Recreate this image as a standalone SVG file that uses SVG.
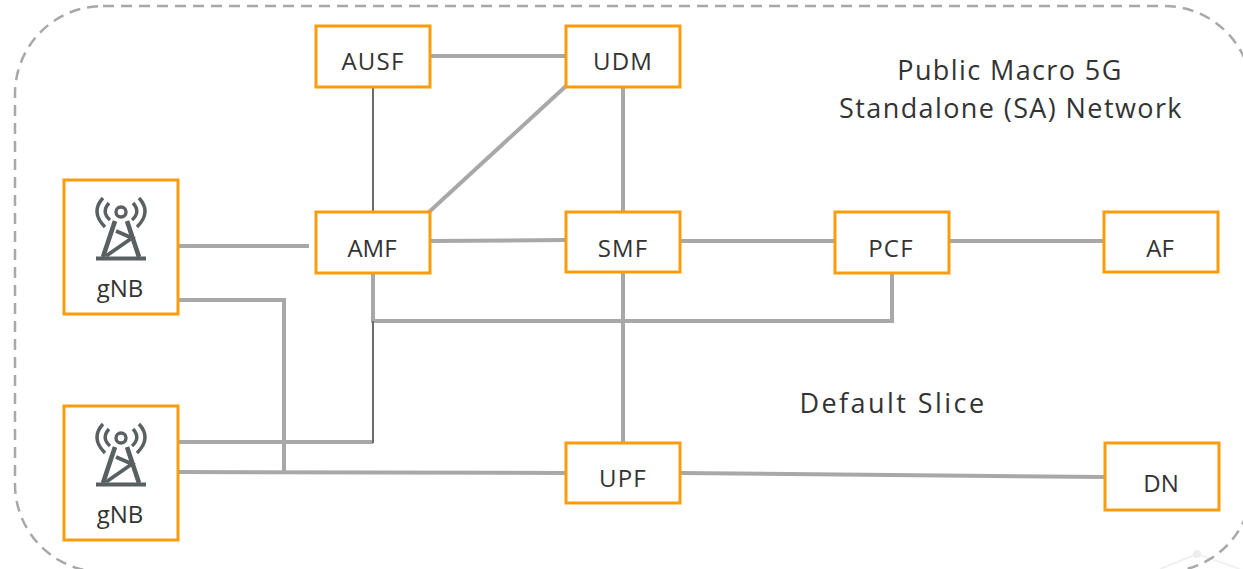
<svg xmlns="http://www.w3.org/2000/svg" width="1243" height="569" viewBox="0 0 1243 569">
<defs>
<g id="tower" fill="none" stroke="#586060">
<circle cx="0" cy="0" r="5" stroke-width="3.400"/>
<path d="M-6 9 L-18 45 M6 9 L18 45" stroke-width="4.600"/>
<path d="M-5 19 L11 26 L-15 44" stroke-width="3.800"/>
<path d="M-25 46.500 H25" stroke-width="4.200"/>
<path d="M-12 -9 Q-20 0 -11 8 M12 -9 Q20 0 11 8" stroke-width="3.400"/>
<path d="M-18 -14 Q-31 0 -16 15 M18 -14 Q31 0 16 15" stroke-width="3.400"/>
</g>
</defs>
<style>
.box{fill:#fff;stroke:#fb9c0c;stroke-width:3}
.t{font-family:"Open Sans","Noto Sans",sans-serif;fill:#333;text-anchor:middle}
.n{font-size:24px}
.s{letter-spacing:1.200px}
.a{font-size:27px;letter-spacing:1.400px}
.w{fill:none;stroke:#a8a8a8;stroke-width:4}
.d{fill:none;stroke:#6b6b6b;stroke-width:2}
.f{fill:none;stroke:#f1f1f1;stroke-width:2}
</style>
<rect width="1243" height="569" fill="#fff"/>
<g id="watermark"><path class="f" d="M1160 569L1197 554L1240 569"/><circle cx="1197" cy="554" r="4" fill="#eee"/></g>
<g id="slice-boundary"><rect x="15" y="6" width="1237" height="566" rx="88" ry="88" fill="none" stroke="#a8a8a8" stroke-width="2.500" stroke-dasharray="11 7"/></g>
<g id="connectors">
<path class="w" d="M430 56H566"/>
<path class="w" d="M429 212L566 86"/>
<path class="w" d="M623 87V212"/>
<path class="w" d="M178 246H309"/>
<path class="w" d="M430 241L566 240"/>
<path class="w" d="M680 241H835"/>
<path class="w" d="M949 241H1104"/>
<path class="w" d="M373 273V321H892V273"/>
<path class="w" d="M623 272V443"/>
<path class="w" d="M178 300H284V473"/>
<path class="w" d="M178 442H373"/>
<path class="w" d="M178 472L566 473"/>
<path class="w" d="M680 473L1105 477"/>
<path class="d" d="M373 87V212"/>
<path class="d" d="M373 321V443"/>
</g>
<g id="ausf"><rect class="box" x="316" y="26" width="114" height="61"/><text class="t n s" x="373" y="70">AUSF</text></g>
<g id="udm"><rect class="box" x="566" y="26" width="114" height="61"/><text class="t n s" x="623" y="70">UDM</text></g>
<g id="amf"><rect class="box" x="316" y="212" width="114" height="61"/><text class="t n" x="372" y="257">AMF</text></g>
<g id="smf"><rect class="box" x="566" y="212" width="114" height="60"/><text class="t n s" x="623" y="257">SMF</text></g>
<g id="pcf"><rect class="box" x="835" y="212" width="114" height="61"/><text class="t n s" x="891" y="257">PCF</text></g>
<g id="af"><rect class="box" x="1104" y="212" width="114" height="60"/><text class="t n" x="1160" y="257">AF</text></g>
<g id="upf"><rect class="box" x="566" y="443" width="114" height="60"/><text class="t n s" x="623" y="487">UPF</text></g>
<g id="dn"><rect class="box" x="1105" y="443" width="114" height="67"/><text class="t n" x="1161" y="492">DN</text></g>
<g id="gnb1"><rect class="box" x="64" y="180" width="114" height="134"/><use href="#tower" x="121" y="212"/><text class="t n" x="120" y="297">gNB</text></g>
<g id="gnb2"><rect class="box" x="64" y="406" width="114" height="134"/><use href="#tower" x="121" y="438"/><text class="t n" x="120" y="523">gNB</text></g>
<g id="labels">
<text class="t a" x="1010" y="80">Public Macro 5G</text>
<text class="t a" x="1011" y="118">Standalone (SA) Network</text>
<text class="t a" x="893" y="413" style="letter-spacing:2.450px">Default Slice</text>
</g>
</svg>
